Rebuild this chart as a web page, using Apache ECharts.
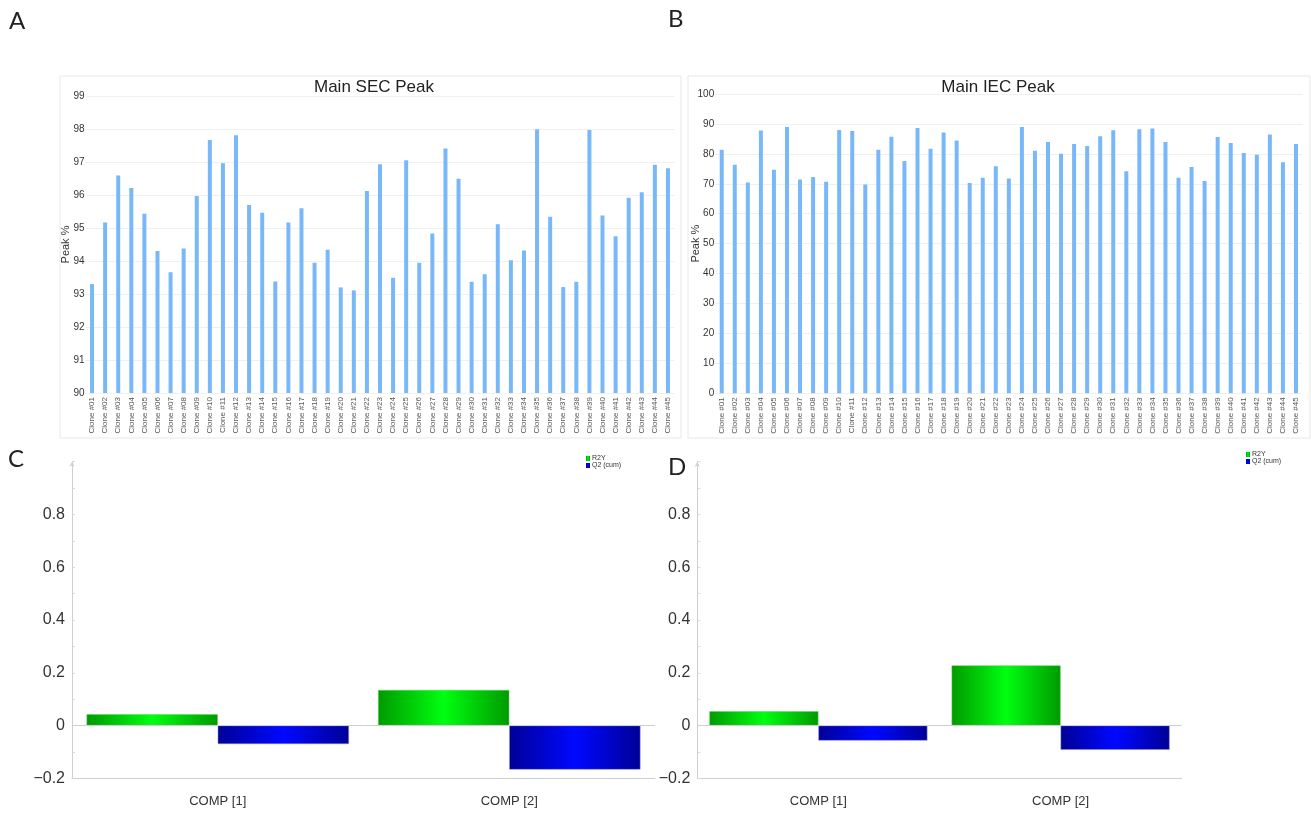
<!DOCTYPE html>
<html>
<head>
<meta charset="utf-8">
<script src="https://cdn.jsdelivr.net/npm/echarts@6/dist/echarts.min.js"></script>
<style>
  html, body { margin: 0; padding: 0; background: #fff; }
  #chart { width: 1311px; height: 814px; }
</style>
</head>
<body>
<div id="chart"></div>
<script>
// clone names for panels A and B
var clones = [];
for (var i = 1; i <= 45; i++) {
  clones.push("Clone #" + (i < 10 ? "0" + i : i));
}
// Main SEC peak (%)
var secPeak = [93.30, 95.17, 96.59, 96.21, 95.43, 94.30, 93.66, 94.38, 95.97, 97.67,
  96.96, 97.81, 95.70, 95.46, 93.38, 95.17, 95.60, 93.95, 94.34, 93.20,
  93.11, 96.12, 96.93, 93.49, 97.05, 93.95, 94.83, 97.41, 96.49, 93.37,
  93.60, 95.11, 94.02, 94.32, 97.99, 95.34, 93.21, 93.37, 97.97, 95.38,
  94.75, 95.92, 96.08, 96.92, 96.81];
// Main IEC peak (%)
var iecPeak = [81.4, 76.4, 70.4, 87.8, 74.7, 89.0, 71.4, 72.3, 70.7, 88.0,
  87.6, 69.8, 81.4, 85.7, 77.6, 88.6, 81.7, 87.1, 84.5, 70.3,
  72.0, 75.9, 71.8, 89.0, 81.0, 84.0, 80.0, 83.3, 82.6, 85.9,
  87.9, 74.2, 88.2, 88.5, 84.0, 72.0, 75.6, 70.9, 85.6, 83.6,
  80.3, 79.7, 86.5, 77.2, 83.3];
// PLS model components (C and D)
var comps = ["COMP [1]", "COMP [2]"];
var r2yC = [0.043, 0.135];
var q2C = [-0.070, -0.167];
var r2yD = [0.054, 0.228];
var q2D = [-0.057, -0.092];

var textFont = "Liberation Sans";
var barBlue = "#78b8f8";

var greenGrad = new echarts.graphic.LinearGradient(0, 0, 1, 0, [
  { offset: 0, color: "#009a00" },
  { offset: 0.5, color: "#00ff10" },
  { offset: 1, color: "#009a00" }
]);
var blueGrad = new echarts.graphic.LinearGradient(0, 0, 1, 0, [
  { offset: 0, color: "#000096" },
  { offset: 0.5, color: "#0008ff" },
  { offset: 1, color: "#000096" }
]);

function peakX(idx) {
  return {
    type: "category", gridIndex: idx, data: clones,
    axisLine: { show: false }, axisTick: { show: false },
    axisLabel: { rotate: 90, fontSize: 8, color: "#555", margin: 4, interval: 0, fontFamily: textFont }
  };
}
function peakY(idx, min, max, interval, gap) {
  return {
    type: "value", gridIndex: idx, min: min, max: max, interval: interval,
    name: "Peak %", nameLocation: "middle", nameRotate: 90, nameGap: gap,
    nameMoveOverlap: false,
    nameTextStyle: { fontSize: 11, color: "#333", fontFamily: textFont },
    axisLine: { show: false }, axisTick: { show: false },
    axisLabel: { fontSize: 10, color: "#333", margin: 1, fontFamily: textFont },
    splitLine: { lineStyle: { color: "#f0f0f0" } }
  };
}
function compX(idx) {
  return {
    type: "category", gridIndex: idx, data: comps,
    axisLine: { onZero: false, lineStyle: { color: "#cfcfcf" } },
    axisTick: { alignWithLabel: true, length: 3, lineStyle: { color: "#cfcfcf" } },
    axisLabel: { fontSize: 13, color: "#333", margin: 17, fontFamily: textFont }
  };
}
function compY(idx) {
  return {
    type: "value", gridIndex: idx, min: -0.2, max: 1.0, interval: 0.2,
    axisLine: { show: true, symbol: ["none", "arrow"], symbolSize: [4, 5], lineStyle: { color: "#cfcfcf" } },
    axisTick: { show: true, inside: true, length: 3, lineStyle: { color: "#d8d8d8" } },
    minorTick: { show: true, splitNumber: 2, length: 3, lineStyle: { color: "#d8d8d8" } },
    splitLine: { show: false },
    axisLabel: {
      fontSize: 16, color: "#333", margin: 7, fontFamily: textFont,
      formatter: function (v) {
        if (Math.abs(v - 1) < 1e-6) return "";
        if (Math.abs(v) < 1e-6) return "0";
        return (v < 0 ? "\u2212" : "") + Math.abs(v).toFixed(1);
      }
    }
  };
}
function zeroLine() {
  return {
    silent: true, symbol: "none", label: { show: false },
    lineStyle: { color: "#cfcfcf", type: "solid", width: 1 },
    data: [{ yAxis: 0 }]
  };
}
function compLegend(x, y) {
  return {
    left: x, top: y, padding: 0, orient: "vertical", itemGap: 0, itemWidth: 4, itemHeight: 5,
    icon: "rect", itemStyle: { borderWidth: 0 },
    textStyle: { fontSize: 7, color: "#333", padding: [0, 0, 0, -3] },
    data: ["R2Y", "Q2 (cum)"]
  };
}

var myChart = echarts.init(document.getElementById("chart"));
var option = {
  animation: false,
  textStyle: { fontFamily: textFont },
  title: [
    { text: "Main SEC Peak", left: 369, top: 74, textAlign: "center",
      textStyle: { fontSize: 17, fontWeight: "normal", color: "#222", fontFamily: textFont } },
    { text: "Main IEC Peak", left: 993, top: 74, textAlign: "center",
      textStyle: { fontSize: 17, fontWeight: "normal", color: "#222", fontFamily: textFont } }
  ],
  legend: [compLegend(586, 455), compLegend(1246, 451)],
  grid: [
    { left: 85.5, top: 96, width: 589, height: 297 },
    { left: 715.2, top: 94, width: 587.3, height: 299.3 },
    { left: 72, top: 461.7, width: 583, height: 316.6 },
    { left: 697.3, top: 461.7, width: 484.4, height: 316.6 }
  ],
  xAxis: [peakX(0), peakX(1), compX(2), compX(3)],
  yAxis: [
    peakY(0, 90, 99, 1, 14),
    peakY(1, 0, 100, 10, 13.5),
    compY(2),
    compY(3)
  ],
  graphic: [
    { type: "rect", shape: { x: 60, y: 76, width: 621, height: 362 },
      style: { fill: "none", stroke: "#e8e8e8", lineWidth: 1 }, silent: true },
    { type: "rect", shape: { x: 688, y: 76, width: 622, height: 362 },
      style: { fill: "none", stroke: "#e8e8e8", lineWidth: 1 }, silent: true },
    { type: "text", left: 9, top: 9, style: { text: "A", fontSize: 24, fill: "#222", fontFamily: "Lato" } },
    { type: "text", left: 668, top: 7, style: { text: "B", fontSize: 24, fill: "#222", fontFamily: "Lato" } },
    { type: "text", left: 8, top: 447, style: { text: "C", fontSize: 24, fill: "#222", fontFamily: "Lato" } },
    { type: "text", left: 668, top: 455, style: { text: "D", fontSize: 24, fill: "#222", fontFamily: "Lato" } }
  ],
  series: [
    { type: "bar", xAxisIndex: 0, yAxisIndex: 0, data: secPeak, barWidth: 4,
      itemStyle: { color: barBlue } },
    { type: "bar", xAxisIndex: 1, yAxisIndex: 1, data: iecPeak, barWidth: 4,
      itemStyle: { color: barBlue } },
    { name: "R2Y", type: "bar", xAxisIndex: 2, yAxisIndex: 2, data: r2yC,
      barGap: "0%", barCategoryGap: "10%",
      itemStyle: { color: greenGrad, borderColor: "#5fd35f", borderWidth: 0.5 },
      markLine: zeroLine() },
    { name: "Q2 (cum)", type: "bar", xAxisIndex: 2, yAxisIndex: 2, data: q2C,
      barGap: "0%", barCategoryGap: "10%",
      itemStyle: { color: blueGrad, borderColor: "#8a8ad8", borderWidth: 0.5 } },
    { name: "R2Y", type: "bar", xAxisIndex: 3, yAxisIndex: 3, data: r2yD,
      barGap: "0%", barCategoryGap: "10%",
      itemStyle: { color: greenGrad, borderColor: "#5fd35f", borderWidth: 0.5 },
      markLine: zeroLine() },
    { name: "Q2 (cum)", type: "bar", xAxisIndex: 3, yAxisIndex: 3, data: q2D,
      barGap: "0%", barCategoryGap: "10%",
      itemStyle: { color: blueGrad, borderColor: "#8a8ad8", borderWidth: 0.5 } }
  ]
};
myChart.setOption(option, true);
</script>
</body>
</html>
